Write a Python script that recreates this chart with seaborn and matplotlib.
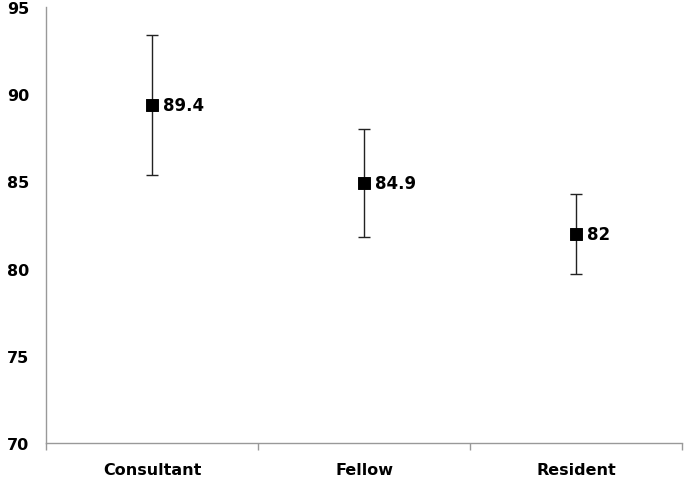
import seaborn as sns
import pandas as pd
import matplotlib.pyplot as plt

# Данные
groups = ['Consultant', 'Fellow', 'Resident']
means = [89.4, 84.9, 82.0]
lower = [85.4, 81.8, 79.7]
upper = [93.4, 88.0, 84.3]
point_labels = ['89.4', '84.9', '82']

df = pd.DataFrame({'group': groups, 'mean': means})

sns.set_style("white")
plt.rcParams['font.family'] = ['DejaVu Sans']
plt.rcParams['text.color'] = 'black'
plt.rcParams['xtick.color'] = 'black'
plt.rcParams['ytick.color'] = 'black'

fig = plt.figure(figsize=(6.85, 4.81), dpi=100)
ax = fig.add_axes([0.067, 0.077, 0.929, 0.906])

yerr = [[m - l for m, l in zip(means, lower)], [u - m for m, u in zip(means, upper)]]
ax.errorbar(range(len(groups)), means, yerr=yerr, fmt='none', ecolor='#222222',
            elinewidth=1, capsize=4, capthick=1, zorder=2)
sns.scatterplot(data=df, x='group', y='mean', marker='s', s=70, color='black',
                edgecolor='black', ax=ax, zorder=3)

for i, (m, t) in enumerate(zip(means, point_labels)):
    ax.annotate(t, (i, m), xytext=(8, 0), textcoords='offset points',
                ha='left', va='center', fontsize=12, fontweight='bold', color='black')

ax.set_xlim(-0.5, 2.5)
ax.set_ylim(70, 95)
ax.set_yticks([70, 75, 80, 85, 90, 95])
ax.set_xticks(range(len(groups)))
ax.set_xticklabels(groups)
ax.set_xticks([-0.5, 0.5, 1.5, 2.5], minor=True)
ax.set_xlabel('')
ax.set_ylabel('')

for side in ['top', 'right']:
    ax.spines[side].set_visible(False)
for side in ['left', 'bottom']:
    ax.spines[side].set_color('#999999')
    ax.spines[side].set_linewidth(1)

ax.tick_params(axis='y', length=0, pad=12, labelsize=11.5, labelcolor='black')
ax.tick_params(axis='x', which='major', bottom=True, length=0, pad=14,
               labelsize=11.5, labelcolor='black')
ax.tick_params(axis='x', which='minor', bottom=True, length=5, width=1,
               color='#999999', direction='out')
for lab in ax.get_xticklabels() + ax.get_yticklabels():
    lab.set_fontweight('bold')

fig.savefig('out.png', dpi=100)
